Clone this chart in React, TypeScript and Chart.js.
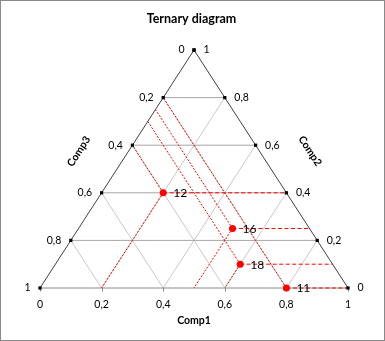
import { useEffect, useRef } from "react";
import { Chart, registerables } from "chart.js";
Chart.register(...registerables);

// ---- data ----
const pointLabels = ["12", "16", "18", "11"];
const comp1 = [0.2, 0.5, 0.6, 0.8];
const comp2 = [0.4, 0.25, 0.1, 0.0];
const comp3 = [0.4, 0.25, 0.3, 0.2];
const tickValues = [0, 0.2, 0.4, 0.6, 0.8, 1];
const tickLabels = ["0", "0,2", "0,4", "0,6", "0,8", "1"];
const gridLevels = [0.2, 0.4, 0.6, 0.8];
const chartTitle = "Ternary diagram";
const axisTitles = ["Comp1", "Comp2", "Comp3"];

const FONT = "Lato, 'DejaVu Sans', sans-serif";

type P = { x: number; y: number };
// composition -> plot coords (x across base, y = height fraction)
const toXY = (c1: number, c2: number): P => ({ x: c1 + c2 / 2, y: c2 });

function seg(a: P, b: P, color: string, order: number, dash: number[] = []) {
  return {
    type: "scatter" as const,
    data: [a, b],
    showLine: true,
    borderColor: color,
    borderWidth: 1,
    borderDash: dash,
    pointRadius: 0,
    pointHoverRadius: 0,
    order,
    clip: false as any,
  };
}

function buildDatasets() {
  const ds: any[] = [];
  // gray grid
  for (const h of gridLevels) {
    ds.push(seg({ x: h / 2, y: h }, { x: 1 - h / 2, y: h }, "#A6A6A6", 5));
  }
  for (const b of gridLevels) {
    ds.push(seg({ x: b, y: 0 }, { x: b + (1 - b) / 2, y: 1 - b }, "#C8C8C8", 6));
    ds.push(seg({ x: b, y: 0 }, { x: b / 2, y: b }, "#C8C8C8", 6));
  }
  // triangle edges
  ds.push(seg({ x: 0, y: 0 }, { x: 1, y: 0 }, "#8A8A8A", 4));
  ds.push(seg({ x: 0, y: 0 }, { x: 0.5, y: 1 }, "#404040", 4));
  ds.push(seg({ x: 1, y: 0 }, { x: 0.5, y: 1 }, "#404040", 4));
  // red reading lines
  for (let i = 0; i < comp1.length; i++) {
    const p = toXY(comp1[i], comp2[i]);
    const yl = 1 - comp3[i];
    ds.push(seg(p, { x: 1 - p.y / 2, y: p.y }, "#FF0000", 2, [4, 2.5]));
    if (comp2[i] > 0) ds.push(seg(p, { x: comp1[i], y: 0 }, "#FF0000", 2, [2, 1.5]));
    ds.push(seg(p, { x: yl / 2, y: yl }, "#FF0000", 2, [2, 1.5]));
  }
  // edge tick markers
  const marks: P[] = [];
  for (const v of tickValues) {
    marks.push({ x: (1 - v) / 2, y: 1 - v });
    marks.push({ x: 1 - v / 2, y: v });
  }
  ds.push({
    type: "scatter",
    data: marks,
    pointStyle: "rect",
    pointRadius: 2.3,
    pointHoverRadius: 2.3,
    backgroundColor: "#000",
    borderWidth: 0,
    order: 1,
    clip: false,
  });
  // data points
  ds.push({
    type: "scatter",
    data: comp1.map((c, i) => toXY(c, comp2[i])),
    pointRadius: 3.5,
    pointHoverRadius: 3.5,
    backgroundColor: "#FF0000",
    borderColor: "#FF0000",
    borderWidth: 0,
    order: 0,
    clip: false,
  });
  return ds;
}

const overlay = {
  id: "overlay",
  beforeDatasetsDraw(chart: any) {
    const { ctx, scales } = chart;
    const xs = scales.x, ys = scales.y;
    const y0 = ys.getPixelForValue(0);
    ctx.save();
    ctx.strokeStyle = "#8A8A8A";
    ctx.lineWidth = 1;
    for (const v of tickValues) {
      const x = Math.round(xs.getPixelForValue(v)) + 0.5;
      ctx.beginPath();
      ctx.moveTo(x, y0);
      ctx.lineTo(x, y0 + 3.5);
      ctx.stroke();
    }
    ctx.restore();
  },
  afterDraw(chart: any) {
    const { ctx, scales, width, height } = chart;
    const xs = scales.x, ys = scales.y;
    const px = (p: P) => ({ x: xs.getPixelForValue(p.x), y: ys.getPixelForValue(p.y) });
    ctx.save();
    // border
    ctx.strokeStyle = "#898989";
    ctx.lineWidth = 1;
    ctx.strokeRect(0.5, 0.5, width - 1, height - 1);

    // title
    ctx.fillStyle = "#000";
    ctx.font = `bold 12.5px ${FONT}`;
    ctx.textAlign = "center";
    ctx.textBaseline = "middle";
    ctx.fillText(chartTitle, width / 2 - 1, 18.5);

    // tick labels
    ctx.font = `10.5px ${FONT}`;
    tickValues.forEach((v, i) => {
      // bottom: Comp1
      const b = px({ x: v, y: 0 });
      ctx.textAlign = "center";
      ctx.fillText(tickLabels[i], b.x, b.y + 16.5);
      // left: Comp3
      const l = px({ x: (1 - v) / 2, y: 1 - v });
      ctx.textAlign = "right";
      ctx.fillText(tickLabels[i], l.x - 9.5, l.y);
      // right: Comp2
      const r = px({ x: 1 - v / 2, y: v });
      ctx.textAlign = "left";
      ctx.fillText(tickLabels[i], r.x + 9.5, r.y);
    });

    // axis titles
    ctx.font = `bold 10.5px ${FONT}`;
    const bl = px({ x: 0, y: 0 }), br = px({ x: 1, y: 0 }), top = px({ x: 0.5, y: 1 });
    ctx.textAlign = "center";
    ctx.fillText(axisTitles[0], (bl.x + br.x) / 2, bl.y + 33);
    // Comp3 along left edge
    {
      const dx = top.x - bl.x, dy = top.y - bl.y, len = Math.hypot(dx, dy);
      const ux = dx / len, uy = dy / len;
      const nx = uy, ny = -ux; // outward (left)
      const mx = (bl.x + top.x) / 2, my = (bl.y + top.y) / 2;
      const cx = mx + nx * 41.5 - ux * 6, cy = my + ny * 41.5 - uy * 6;
      ctx.save();
      ctx.translate(cx, cy);
      ctx.rotate(Math.atan2(dy, dx));
      ctx.fillText(axisTitles[2], 0, 0);
      ctx.restore();
    }
    // Comp2 along right edge
    {
      const dx = br.x - top.x, dy = br.y - top.y, len = Math.hypot(dx, dy);
      const ux = dx / len, uy = dy / len;
      const nx = uy, ny = -ux; // outward (right)
      const mx = (br.x + top.x) / 2, my = (br.y + top.y) / 2;
      const cx = mx + nx * 42.5 + ux * 6, cy = my + ny * 42.5 + uy * 6;
      ctx.save();
      ctx.translate(cx, cy);
      ctx.rotate(Math.atan2(dy, dx));
      ctx.fillText(axisTitles[1], 0, 0);
      ctx.restore();
    }

    // point labels
    ctx.font = `12px ${FONT}`;
    ctx.textAlign = "left";
    comp1.forEach((c, i) => {
      const p = px(toXY(c, comp2[i]));
      ctx.fillText(pointLabels[i], p.x + 10, p.y + 0.5);
    });
    ctx.restore();
  },
};

export default function App() {
  const ref = useRef<HTMLCanvasElement>(null);
  useEffect(() => {
    const chart = new Chart(ref.current as HTMLCanvasElement, {
      type: "scatter",
      data: { datasets: buildDatasets() },
      plugins: [overlay],
      options: {
        animation: false,
        responsive: false,
        devicePixelRatio: 1,
        layout: { padding: { left: 40, right: 37, top: 50, bottom: 53 } },
        scales: {
          x: { type: "linear", min: 0, max: 1, display: false },
          y: { type: "linear", min: 0, max: 1, display: false },
        },
        plugins: {
          legend: { display: false },
          tooltip: { enabled: false },
          title: { display: false },
        },
        events: [],
      },
    } as any);
    return () => chart.destroy();
  }, []);
  return (
    <div style={{ position: "fixed", left: 0, top: 0, width: 385, height: 341, background: "#fff" }}>
      <canvas ref={ref} width={385} height={341} style={{ display: "block", width: 385, height: 341 }} />
    </div>
  );
}
